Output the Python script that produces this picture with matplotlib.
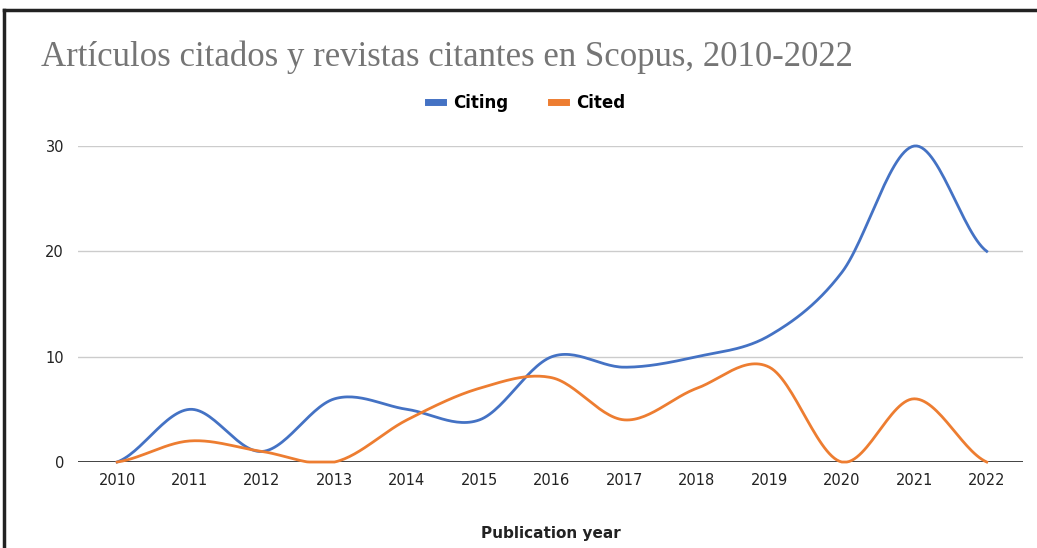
import matplotlib.pyplot as plt
import numpy as np
from matplotlib.lines import Line2D

years = ['2010', '2011', '2012', '2013', '2014', '2015', '2016',
         '2017', '2018', '2019', '2020', '2021', '2022']
citing = [0, 5, 1, 6, 5, 4, 10, 9, 10, 12, 18, 30, 20]
cited = [0, 2, 1, 0, 4, 7, 8, 4, 7, 9, 0, 6, 0]
y_ticks = [0, 10, 20, 30]


def smooth(xs, ys, n=30):
    # catmull-rom curve through the points, like the sheet's smooth lines
    xs = np.asarray(xs, float)
    ys = np.asarray(ys, float)
    px = np.concatenate([[2 * xs[0] - xs[1]], xs, [2 * xs[-1] - xs[-2]]])
    py = np.concatenate([[ys[0]], ys, [ys[-1]]])
    out_x, out_y = [], []
    t = np.linspace(0, 1, n)
    for i in range(1, len(px) - 2):
        for p, out in ((px, out_x), (py, out_y)):
            p0, p1, p2, p3 = p[i - 1], p[i], p[i + 1], p[i + 2]
            out.extend(0.5 * ((2 * p1) + (-p0 + p2) * t
                              + (2 * p0 - 5 * p1 + 4 * p2 - p3) * t ** 2
                              + (-p0 + 3 * p1 - 3 * p2 + p3) * t ** 3))
    return np.array(out_x), np.array(out_y)


fig = plt.figure(figsize=(10.37, 5.48), dpi=100)
ax = fig.add_axes([0.0752, 0.1569, 0.9113, 0.5767])

x = np.arange(len(years))
sx, sy = smooth(x, citing)
ax.plot(sx, sy, color='#4472C4', lw=2.0, clip_on=False, zorder=3)
sx, sy = smooth(x, cited)
ax.plot(sx, np.maximum(sy, 0), color='#ED7D31', lw=2.0, clip_on=False, zorder=3)

ax.set_xlim(-0.54, 12.5)
ax.set_ylim(0, 30)
ax.set_xticks(x)
ax.set_xticklabels(years)
ax.set_yticks(y_ticks)
ax.tick_params(length=0, labelsize=10.5, colors='#222222', pad=8)
ax.tick_params(axis='y', pad=10)
for v in y_ticks[1:]:
    ax.axhline(v, color='#cccccc', lw=1, zorder=1)
ax.axhline(0, color='#333333', lw=1.3, zorder=2)
for s in ax.spines.values():
    s.set_visible(False)

ax.set_xlabel('Publication year', fontsize=11, fontweight='bold',
              color='#222222', labelpad=27)

fig.text(0.040, 0.896, 'Artículos citados y revistas citantes en Scopus, 2010-2022',
         family='Liberation Serif', fontsize=25, color='#757575', va='center')

handles = [Line2D([], [], color='#4472C4', lw=5),
           Line2D([], [], color='#ED7D31', lw=5)]
fig.legend(handles, ['Citing', 'Cited'], loc='center', bbox_to_anchor=(0.508, 0.812),
           ncol=2, frameon=False, handlelength=0.9, handletextpad=0.6,
           columnspacing=2.6, prop={'weight': 'bold', 'size': 12})

# frame of the cropped screenshot
fig.add_artist(Line2D([0.004, 1], [0.982, 0.982], color='#222222', lw=2.5))
fig.add_artist(Line2D([0.004, 0.004], [0, 0.982], color='#222222', lw=2.5))

fig.savefig('out.png', dpi=100)
